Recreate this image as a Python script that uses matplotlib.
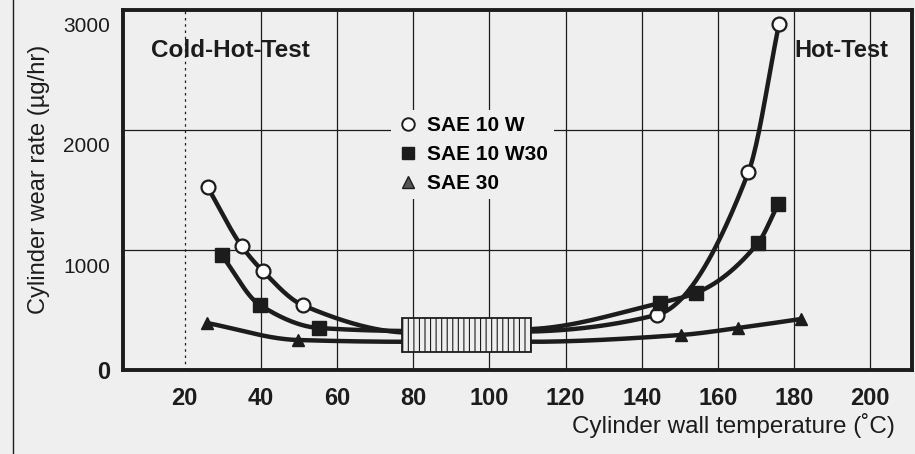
import numpy as np
import matplotlib
matplotlib.use("Agg")
import matplotlib.pyplot as plt
from matplotlib.lines import Line2D
from matplotlib.patches import Rectangle
from matplotlib.transforms import ScaledTranslation

temp_10w = [26, 35, 40.5, 51, 144, 168, 176]
wear_10w = [1525, 1030, 825, 540, 460, 1650, 2880]
temp_10w30 = [29.7, 39.7, 55.3, 144.7, 154.2, 170.5, 175.8]
wear_10w30 = [958, 542, 350, 558, 642, 1058, 1383]
temp_30 = [25.8, 49.7, 150.3, 165.3, 181.8]
wear_30 = [392, 250, 292, 350, 425]

# curve level where the lines pass behind the hatched block
block_temp = [80, 110]
block_10w = [310, 320]
block_10w30 = [325, 340]
block_30 = [235, 235]
block_range = [150, 433]

series_labels = ["SAE 10 W", "SAE 10 W30", "SAE 30"]
x_ticks = [20, 40, 60, 80, 100, 120, 140, 160, 180, 200]
y_ticks = [0, 1000, 2000, 3000]

INK = "#1c1c1c"
PAPER = "#efefef"
SANS = ["Liberation Sans", "DejaVu Sans"]


def pchip(x, y, xs):
    """Shape preserving cubic through the points (no scipy here)."""
    x = np.asarray(x, float)
    y = np.asarray(y, float)
    h = np.diff(x)
    d = np.diff(y) / h
    m = np.zeros_like(y)
    m[0], m[-1] = d[0], d[-1]
    for k in range(1, len(x) - 1):
        if d[k - 1] * d[k] > 0:
            w1 = 2 * h[k] + h[k - 1]
            w2 = h[k] + 2 * h[k - 1]
            m[k] = (w1 + w2) / (w1 / d[k - 1] + w2 / d[k])
    idx = np.clip(np.searchsorted(x, xs) - 1, 0, len(x) - 2)
    t = (xs - x[idx]) / h[idx]
    h00 = 2 * t**3 - 3 * t**2 + 1
    h10 = t**3 - 2 * t**2 + t
    h01 = -2 * t**3 + 3 * t**2
    h11 = t**3 - t**2
    return h00 * y[idx] + h10 * h[idx] * m[idx] + h01 * y[idx + 1] + h11 * h[idx] * m[idx + 1]


def curve(tx, ty, bx, by):
    pts = sorted(zip(list(tx) + list(bx), list(ty) + list(by)))
    px, py = zip(*pts)
    xs = np.linspace(px[0], px[-1], 400)
    return xs, pchip(px, py, xs)


fig = plt.figure(figsize=(9.15, 4.54), dpi=100, facecolor=PAPER)
ax = fig.add_axes([0.134, 0.185, 0.863, 0.793], facecolor=PAPER)
ax.set_xlim(3.7, 211)
ax.set_ylim(0, 3000)

for x in x_ticks:
    ls = (0, (2, 3)) if x == x_ticks[0] else "-"
    ax.axvline(x, color=INK, lw=0.9, ls=ls, zorder=1)
for y in y_ticks[1:-1]:
    ax.axhline(y, color=INK, lw=0.9, zorder=1)

# curves (behind the block), markers on top
for tx, ty, bx, by in [(temp_10w, wear_10w, block_temp, block_10w),
                       (temp_10w30, wear_10w30, block_temp, block_10w30),
                       (temp_30, wear_30, block_temp, block_30)]:
    xs, ys = curve(tx, ty, bx, by)
    ax.plot(xs, ys, color=INK, lw=3.2, solid_capstyle="round", zorder=2)

plt.rcParams["hatch.linewidth"] = 0.8
ax.add_patch(Rectangle((block_temp[0] - 3, block_range[0]), block_temp[1] - block_temp[0] + 4,
                       block_range[1] - block_range[0], facecolor=PAPER, edgecolor=INK,
                       lw=1.3, hatch="|||", zorder=3))

ax.plot(temp_10w, wear_10w, "o", ms=10, mfc="white", mec=INK, mew=1.6, zorder=4)
ax.plot(temp_10w30, wear_10w30, "s", ms=10, mfc=INK, mec=INK, zorder=4)
ax.plot(temp_30, wear_30, "^", ms=9, mfc=INK, mec=INK, zorder=4)

handles = [
    Line2D([], [], ls="none", marker="o", ms=9, mfc="white", mec=INK, mew=1.4),
    Line2D([], [], ls="none", marker="s", ms=9, mfc=INK, mec=INK),
    Line2D([], [], ls="none", marker="^", ms=8, mfc="#555555", mec=INK),
]
leg = ax.legend(handles, series_labels, loc="upper left", bbox_to_anchor=(0.327, 0.752),
                frameon=True, facecolor=PAPER, edgecolor="none", framealpha=1,
                handlelength=1.0, handletextpad=0.4, labelspacing=0.48, borderpad=0.3,
                prop={"family": SANS, "weight": "bold", "size": 15})
leg.get_frame().set_boxstyle("square", pad=0)
leg.set_zorder(5)

ax.text(0.036, 0.888, "Cold-Hot-Test", transform=ax.transAxes, ha="left", va="center",
        family=SANS, weight="bold", fontsize=17.5, color=INK)
ax.text(0.97, 0.888, "Hot-Test", transform=ax.transAxes, ha="right", va="center",
        family=SANS, weight="bold", fontsize=17, color=INK)

ax.set_xticks(x_ticks)
ax.set_xticklabels([str(v) for v in x_ticks], family=SANS, weight="bold", fontsize=17, color=INK)
ax.set_yticks(y_ticks)
ax.set_yticklabels([str(v) for v in y_ticks], family=SANS, fontsize=15, color=INK)
ax.tick_params(axis="both", length=0)
ax.tick_params(axis="x", pad=12)
ax.tick_params(axis="y", pad=9)
ylabels = ax.get_yticklabels()
ylabels[0].set_weight("bold")
ylabels[0].set_fontsize(17)
for lab in ylabels[1:]:
    lab.set_transform(lab.get_transform() + ScaledTranslation(0, -15 / 100, fig.dpi_scale_trans))

for sp in ax.spines.values():
    sp.set_linewidth(2.8)
    sp.set_color(INK)

ax.set_ylabel("Cylinder wear rate (µg/hr)", family=SANS, fontsize=17, color=INK)
ax.yaxis.set_label_coords(-0.092, 0.53)
fig.text(0.978, 0.062, "Cylinder wall temperature (˚C)", ha="right", va="center",
         family=SANS, fontsize=17.5, color=INK)

fig.add_artist(Line2D([13 / 915, 13 / 915], [0, 1], transform=fig.transFigure, color=INK, lw=1))

fig.savefig("out.png", dpi=100, facecolor=PAPER)
